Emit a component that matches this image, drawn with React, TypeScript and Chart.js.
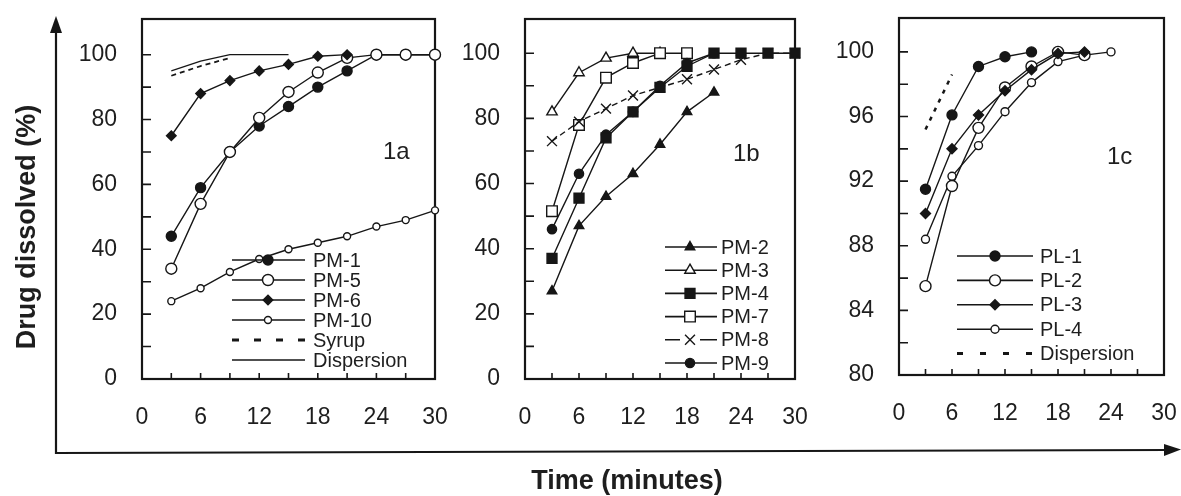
import React, { useEffect, useRef } from 'react';
import { Chart, registerables } from 'chart.js';
import { drawPoint } from 'chart.js/helpers';

Chart.register(...registerables);

const FONT = "'Liberation Sans', Arial, Helvetica, sans-serif";
const INK = '#161616';
const TEXT = '#1e1e1e';

// ---------- data ----------
const minutes = [3, 6, 9, 12, 15, 18, 21, 24, 27, 30];

const xTicks = [0, 3, 6, 9, 12, 15, 18, 21, 24, 27, 30];
const xLabels = [0, 6, 12, 18, 24, 30];
const yTicksAB = [0, 10, 20, 30, 40, 50, 60, 70, 80, 90, 100];
const yLabelsAB = [0, 20, 40, 60, 80, 100];
const yTicksC = [80, 82, 84, 86, 88, 90, 92, 94, 96, 98, 100];
const yLabelsC = [80, 84, 88, 92, 96, 100];

// Panel 1a
const pm1 = [44, 59, 70, 78, 84, 90, 95, 100, 100, 100];
const pm5 = [34, 54, 70, 80.5, 88.5, 94.5, 99, 100, 100, 100];
const pm6 = [75, 88, 92, 95, 97, 99.5, 100];
const pm10 = [24, 28, 33, 37, 40, 42, 44, 47, 49, 52];
const syrupA = [93.5, 96.5, 99];
const dispersionA = [95, 98, 100, 100, 100];

// Panel 1b
const pm2 = [27, 47, 56, 63, 72, 82, 88];
const pm3 = [82, 94, 98.5, 100, 100];
const pm4 = [37, 55.5, 74, 82, 89.5, 96, 100, 100, 100, 100];
const pm7 = [51.5, 78, 92.5, 97, 100, 100];
const pm8 = [73, 79, 83, 87, 89.5, 92, 95, 98, 100, 100];
const pm9 = [46, 63, 75, 82, 90, 97, 100];

// Panel 1c
const pl1 = [91.5, 96.1, 99.1, 99.7, 100];
const pl2 = [85.5, 91.7, 95.3, 97.8, 99.1, 100, 99.8];
const pl3 = [90, 94, 96.1, 97.6, 98.9, 99.9, 100];
const pl4 = [88.4, 92.3, 94.2, 96.3, 98.1, 99.4, 99.8, 100];
const dispersionC = [95.2, 98.6];

type Series = {
  label: string;
  values: number[];
  point?: string;
  r?: number;
  filled?: boolean;
  dash?: number[];
  width?: number;
  legendDash?: number[];
  legendWidth?: number;
  legendGap?: number;
};

// arrays listed bottom-to-top drawing order
const seriesA: Series[] = [
  { label: 'Syrup', values: syrupA, dash: [5, 4], width: 1.8, legendDash: [7, 15], legendWidth: 3 },
  { label: 'Dispersion', values: dispersionA, width: 1.2 },
  { label: 'PM-10', values: pm10, point: 'circle', r: 3.5, filled: false },
  { label: 'PM-1', values: pm1, point: 'circle', r: 5, filled: true },
  { label: 'PM-5', values: pm5, point: 'circle', r: 5.5, filled: false },
  { label: 'PM-6', values: pm6, point: 'rectRot', r: 4.8, filled: true },
];
const legendA = ['PM-1', 'PM-5', 'PM-6', 'PM-10', 'Syrup', 'Dispersion'];

const seriesB: Series[] = [
  { label: 'PM-2', values: pm2, point: 'triangle', r: 5.5, filled: true },
  { label: 'PM-3', values: pm3, point: 'triangle', r: 6, filled: false },
  { label: 'PM-7', values: pm7, point: 'rect', r: 7.5, filled: false },
  { label: 'PM-8', values: pm8, point: 'crossRot', r: 7, filled: false, dash: [6, 4], legendGap: 10 },
  { label: 'PM-9', values: pm9, point: 'circle', r: 4.6, filled: true },
  { label: 'PM-4', values: pm4, point: 'rect', r: 7, filled: true },
];
const legendB = ['PM-2', 'PM-3', 'PM-4', 'PM-7', 'PM-8', 'PM-9'];

const seriesC: Series[] = [
  { label: 'Dispersion', values: dispersionC, dash: [4, 6], width: 2.5, legendDash: [6, 17], legendWidth: 3 },
  { label: 'PL-4', values: pl4, point: 'circle', r: 4, filled: false },
  { label: 'PL-2', values: pl2, point: 'circle', r: 5.5, filled: false },
  { label: 'PL-3', values: pl3, point: 'rectRot', r: 5, filled: true },
  { label: 'PL-1', values: pl1, point: 'circle', r: 5, filled: true },
];
const legendC = ['PL-1', 'PL-2', 'PL-3', 'PL-4', 'Dispersion'];

type PanelDef = {
  box: { l: number; t: number; r: number; b: number };
  yMin: number;
  yMax: number;
  yTicks: number[];
  yLabels: number[];
  tag: string;
  tagX: number;
  tagY: number;
  series: Series[];
  legendOrder: string[];
  lg: { x1: number; x2: number; xm: number; xt: number; y0: number; dy: number };
};

const panels: PanelDef[] = [
  {
    box: { l: 142, t: 19, r: 435, b: 379 }, yMin: 0, yMax: 111,
    yTicks: yTicksAB, yLabels: yLabelsAB, tag: '1a', tagX: 383, tagY: 152,
    series: seriesA, legendOrder: legendA,
    lg: { x1: 232, x2: 305, xm: 268, xt: 313, y0: 260, dy: 20 },
  },
  {
    box: { l: 525, t: 19, r: 795, b: 379 }, yMin: 0, yMax: 110.5,
    yTicks: yTicksAB, yLabels: yLabelsAB, tag: '1b', tagX: 733, tagY: 154,
    series: seriesB, legendOrder: legendB,
    lg: { x1: 665, x2: 717, xm: 690, xt: 721, y0: 247, dy: 23.2 },
  },
  {
    box: { l: 899, t: 18, r: 1164, b: 375 }, yMin: 80, yMax: 102.1,
    yTicks: yTicksC, yLabels: yLabelsC, tag: '1c', tagX: 1107, tagY: 157,
    series: seriesC, legendOrder: legendC,
    lg: { x1: 957, x2: 1033, xm: 995, xt: 1040, y0: 256, dy: 24.4 },
  },
];

const YW = 85;
const PT = 20;
const PR = 34;
const XH = 62;

function toDataset(s: Series, i: number) {
  return {
    label: s.label,
    data: s.values.map((v, k) => ({ x: minutes[k], y: v })),
    showLine: true,
    borderColor: INK,
    borderWidth: s.width ?? 1.4,
    borderDash: s.dash ?? [],
    pointStyle: s.point ?? 'circle',
    pointRadius: s.point ? s.r : 0,
    pointHoverRadius: s.point ? s.r : 0,
    pointBackgroundColor: s.filled ? INK : '#ffffff',
    pointBorderColor: INK,
    pointBorderWidth: 1.4,
    tension: 0,
    clip: false,
    order: -i,
  };
}

function Panel({ p }: { p: PanelDef }) {
  const ref = useRef<HTMLCanvasElement>(null);
  const left = p.box.l - YW;
  const top = p.box.t - PT;
  const w = p.box.r - p.box.l + YW + PR;
  const h = p.box.b - p.box.t + PT + XH;

  useEffect(() => {
    const decor = {
      id: 'decor',
      beforeDatasetsDraw(chart: any) {
        const { ctx, chartArea: a, scales } = chart;
        ctx.save();
        ctx.strokeStyle = INK;
        ctx.lineWidth = 2.2;
        ctx.strokeRect(a.left, a.top, a.right - a.left, a.bottom - a.top);
        ctx.lineWidth = 1.6;
        ctx.beginPath();
        for (const t of scales.y.ticks) {
          const y = scales.y.getPixelForValue(t.value);
          ctx.moveTo(a.left, y);
          ctx.lineTo(a.left + 9, y);
        }
        for (const t of scales.x.ticks) {
          const x = scales.x.getPixelForValue(t.value);
          ctx.moveTo(x, a.bottom);
          ctx.lineTo(x, a.bottom - 6);
        }
        ctx.stroke();
        ctx.fillStyle = TEXT;
        ctx.font = `24px ${FONT}`;
        ctx.textAlign = 'left';
        ctx.textBaseline = 'middle';
        ctx.fillText(p.tag, p.tagX - left, p.tagY - top);
        ctx.restore();
      },
      afterDatasetsDraw(chart: any) {
        const ctx = chart.ctx;
        ctx.save();
        p.legendOrder.forEach((name, i) => {
          const s = p.series.find((q) => q.label === name)!;
          const y = p.lg.y0 + i * p.lg.dy - top;
          const x1 = p.lg.x1 - left;
          const x2 = p.lg.x2 - left;
          const xm = p.lg.xm - left;
          ctx.strokeStyle = INK;
          ctx.lineWidth = s.legendWidth ?? 1.6;
          ctx.setLineDash(s.legendDash ?? []);
          ctx.beginPath();
          if (s.legendGap) {
            ctx.moveTo(x1, y);
            ctx.lineTo(xm - s.legendGap, y);
            ctx.moveTo(xm + s.legendGap, y);
            ctx.lineTo(x2, y);
          } else {
            ctx.moveTo(x1, y);
            ctx.lineTo(x2, y);
          }
          ctx.stroke();
          ctx.setLineDash([]);
          if (s.point) {
            ctx.fillStyle = s.filled ? INK : '#ffffff';
            ctx.strokeStyle = INK;
            ctx.lineWidth = 1.4;
            drawPoint(ctx, { pointStyle: s.point, rotation: 0, radius: s.r, borderWidth: 1.4 } as any, xm, y);
          }
          ctx.fillStyle = TEXT;
          ctx.font = `20px ${FONT}`;
          ctx.textAlign = 'left';
          ctx.textBaseline = 'middle';
          ctx.fillText(name, p.lg.xt - left, y + 1);
        });
        ctx.restore();
      },
    };

    const chart = new Chart(ref.current!, {
      type: 'scatter',
      data: { datasets: p.series.map(toDataset) as any },
      options: {
        responsive: false,
        animation: false,
        events: [],
        layout: { padding: { left: 0, top: PT, right: PR, bottom: 0 }, autoPadding: false } as any,
        plugins: { legend: { display: false }, tooltip: { enabled: false } },
        scales: {
          x: {
            type: 'linear',
            min: 0,
            max: 30,
            afterBuildTicks: (s: any) => {
              s.ticks = xTicks.map((v) => ({ value: v }));
            },
            afterFit: (s: any) => {
              s.height = XH;
              s.paddingLeft = 0;
              s.paddingRight = 0;
            },
            grid: { display: false, drawTicks: false },
            border: { display: false },
            ticks: {
              autoSkip: false,
              maxRotation: 0,
              padding: 25,
              color: TEXT,
              font: { family: FONT, size: 23 },
              callback: (v: any) => (xLabels.includes(Number(v)) ? String(v) : ''),
            },
          },
          y: {
            type: 'linear',
            min: p.yMin,
            max: p.yMax,
            afterBuildTicks: (s: any) => {
              s.ticks = p.yTicks.map((v) => ({ value: v }));
            },
            afterFit: (s: any) => {
              s.width = YW;
              s.paddingTop = 0;
              s.paddingBottom = 0;
            },
            grid: { display: false, drawTicks: false },
            border: { display: false },
            ticks: {
              autoSkip: false,
              padding: 25,
              color: TEXT,
              font: { family: FONT, size: 23 },
              callback: (v: any) => (p.yLabels.includes(Number(v)) ? String(v) : ''),
            },
          },
        },
      },
      plugins: [decor],
    } as any);
    return () => chart.destroy();
  }, []);

  return (
    <canvas
      ref={ref}
      width={w}
      height={h}
      style={{ position: 'absolute', left, top }}
    />
  );
}

function Frame() {
  const ref = useRef<HTMLCanvasElement>(null);
  useEffect(() => {
    const frame = {
      id: 'frame',
      beforeDraw(chart: any) {
        const ctx = chart.ctx;
        ctx.save();
        ctx.fillStyle = '#ffffff';
        ctx.fillRect(0, 0, chart.width, chart.height);
        ctx.restore();
      },
      afterDraw(chart: any) {
        const ctx = chart.ctx;
        ctx.save();
        ctx.strokeStyle = INK;
        ctx.fillStyle = INK;
        ctx.lineWidth = 2.2;
        ctx.beginPath();
        ctx.moveTo(56, 30);
        ctx.lineTo(56, 453);
        ctx.lineTo(1168, 450);
        ctx.stroke();
        ctx.beginPath();
        ctx.moveTo(56, 16);
        ctx.lineTo(50, 33);
        ctx.lineTo(62, 33);
        ctx.closePath();
        ctx.fill();
        ctx.beginPath();
        ctx.moveTo(1181, 449.5);
        ctx.lineTo(1164, 444);
        ctx.lineTo(1164, 456);
        ctx.closePath();
        ctx.fill();
        ctx.fillStyle = TEXT;
        ctx.font = `bold 27px ${FONT}`;
        ctx.textAlign = 'center';
        ctx.textBaseline = 'middle';
        ctx.fillText('Time (minutes)', 627, 482);
        ctx.translate(28, 227);
        ctx.rotate(-Math.PI / 2);
        ctx.fillText('Drug dissolved (%)', 0, 0);
        ctx.restore();
      },
    };
    const chart = new Chart(ref.current!, {
      type: 'scatter',
      data: { datasets: [] },
      options: {
        responsive: false,
        animation: false,
        events: [],
        plugins: { legend: { display: false }, tooltip: { enabled: false } },
        scales: { x: { display: false }, y: { display: false } },
      },
      plugins: [frame],
    } as any);
    return () => chart.destroy();
  }, []);
  return <canvas ref={ref} width={1181} height={496} style={{ position: 'absolute', left: 0, top: 0 }} />;
}

export default function App() {
  useEffect(() => {
    document.body.style.margin = '0';
  }, []);
  return (
    <div style={{ position: 'relative', width: 1181, height: 496, background: '#fff', overflow: 'hidden' }}>
      <Frame />
      {panels.map((p, i) => (
        <Panel key={i} p={p} />
      ))}
    </div>
  );
}
